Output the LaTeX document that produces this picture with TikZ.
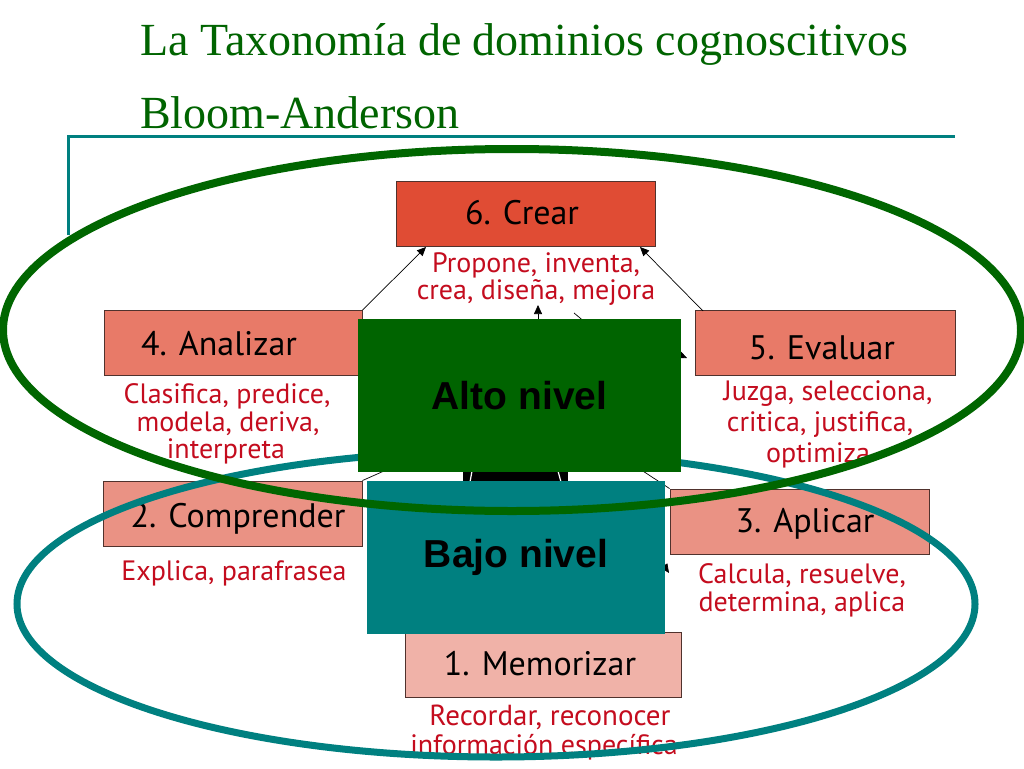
\documentclass[tikz,border=0pt]{standalone}
\usepackage{fontspec}
\setmainfont{Liberation Serif}
\newfontfamily\boxfont{PT Sans}
\newfontfamily\arialfont{Liberation Sans}
\usetikzlibrary{arrows.meta,shapes.geometric}
\definecolor{titlegreen}{RGB}{0,100,0}
\definecolor{ellgreen}{RGB}{0,102,0}
\definecolor{altogreen}{RGB}{0,100,0}
\definecolor{tealc}{RGB}{0,128,128}
\definecolor{descred}{RGB}{196,12,30}
\definecolor{cSix}{RGB}{224,76,52}
\definecolor{cFour}{RGB}{232,122,104}
\definecolor{cTwo}{RGB}{234,146,132}
\definecolor{cOne}{RGB}{240,178,168}
\definecolor{boxline}{RGB}{80,50,45}
\tikzset{
  lvlbox/.style={draw=boxline, line width=0.9pt, inner sep=0pt, minimum width=259pt, minimum height=65pt},
  lbl/.style={anchor=base, inner sep=0pt, font=\boxfont\fontsize{34}{34}\selectfont, text=black},
  desc/.style={anchor=base, inner sep=0pt, font=\boxfont\fontsize{28}{28}\selectfont, text=descred},
  arr/.style={draw=black, line width=0.7pt, -{Triangle[length=9pt,width=8pt]}},
  thin/.style={draw=black, line width=0.7pt},
  big/.style={inner sep=0pt, font=\arialfont\bfseries\fontsize{39}{39}\selectfont, text=black},
  ttl/.style={anchor=base west, inner sep=0pt, font=\fontsize{46}{46}\selectfont, text=titlegreen}
}
\begin{document}
\begin{tikzpicture}[x=1pt,y=-1pt]
\useasboundingbox (0,0) rectangle (1024,768);
\fill[white] (0,0) rectangle (1024,768);

% title
\node[ttl] (t1) at (140,56) {La Taxonomía de dominios cognoscitivos};
\node[ttl] (t2) at (140,128) {Bloom-Anderson};
\coordinate (r1) at (68,235);
\coordinate (r2) at (68,136);
\coordinate (r3) at (955,136);
\draw[tealc, line width=3pt] (r1) -- (r2) -- (r3);

% level boxes
\node[lvlbox, fill=cSix] (crear) at (525.5,213.5) {};
\node[lvlbox, fill=cFour, minimum width=258pt] (analizar) at (233,343) {};
\node[lvlbox, fill=cFour, minimum width=260pt] (evaluar) at (825,343) {};
\node[lvlbox, fill=cTwo] (comprender) at (232.5,513.5) {};
\node[lvlbox, fill=cTwo] (aplicar) at (799.5,521.5) {};
\node[lvlbox, fill=cOne, minimum width=276pt] (memorizar) at (543,664.5) {};

% labels
\node[lbl] (l6) at (522,224) {6. Crear};
\node[lbl] (l4) at (219,355) {4. Analizar};
\node[lbl] (l5) at (822,359) {5. Evaluar};
\node[lbl] (l2) at (238,527) {2. Comprender};
\node[lbl] (l3) at (805,532) {3. Aplicar};
\node[lbl] (l1) at (540,675) {1. Memorizar};

% descriptions
\node[desc] (d6a) at (536,272) {Propone, inventa,};
\node[desc] (d6b) at (536,299) {crea, diseña, mejora};
\node[desc] (d4a) at (227,403) {Clasifica, predice,};
\node[desc] (d4b) at (228,431) {modela, deriva,};
\node[desc] (d4c) at (226,458) {interpreta};
\node[desc] (d5a) at (828,400) {Juzga, selecciona,};
\node[desc] (d5b) at (820,431) {critica, justifica,};
\node[desc] (d5c) at (818,462) {optimiza};
\node[desc] (d2a) at (234,580) {Explica, parafrasea};
\node[desc] (d3a) at (802,583) {Calcula, resuelve,};
\node[desc] (d3b) at (802,611) {determina, aplica};
\node[desc, font=\boxfont\fontsize{29}{29}\selectfont] (d1a) at (550,725) {Recordar, reconocer};
\node[desc] (d1b) at (544,754) {información específica};

% connectors
\coordinate (c6l) at (426,247);
\coordinate (c6r) at (640,247);
\coordinate (e5) at (703,311);
\draw[arr] (analizar.north east) -- (c6l);
\draw[arr] (e5) -- (c6r);
\coordinate (m0) at (538,400);
\coordinate (m1) at (538,305);
\draw[arr] (m0) -- (m1);
\coordinate (k0) at (574,313);
\coordinate (k1) at (592,328);
\draw[thin] (k0) -- (k1);
\coordinate (p0) at (620,330);
\coordinate (p1) at (687,358);
\draw[arr] (p0) -- (p1);
\coordinate (q0) at (640,530);
\coordinate (q1) at (669,573);
\draw[arr] (q0) -- (q1);
\coordinate (u1) at (420,455);
\draw[thin] (comprender.north east) -- (u1);
\coordinate (u2) at (620,456);
\draw[thin] (aplicar.north west) -- (u2);

% black shape between the two big boxes
\fill[black] (463,471) rectangle (568,482);
\draw[white, line width=1.2pt] (472,471) -- (470,482);
\draw[white, line width=1.2pt] (558,471) -- (561,482);

% teal ellipse
\node[draw=tealc, line width=7pt, ellipse, minimum width=958pt, minimum height=306pt, inner sep=0pt] (tealell) at (496,604) {};

% big boxes
\node[big, fill=altogreen, minimum width=323pt, minimum height=153pt] (alto) at (519.5,395.5) {Alto nivel};
\node[big, fill=tealc, minimum width=298pt, minimum height=153pt] (bajo) at (516,557.5) {Bajo nivel};

% green ellipse
\node[draw=ellgreen, line width=8pt, ellipse, minimum width=1018pt, minimum height=362pt, inner sep=0pt] (greenell) at (512,330) {};
\end{tikzpicture}
\end{document}
